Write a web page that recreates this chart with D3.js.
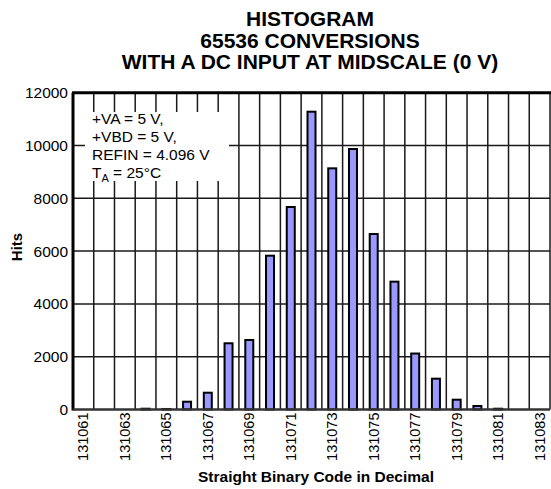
<!DOCTYPE html>
<html lang="en">
<head>
<meta charset="utf-8">
<title>Histogram 65536 conversions</title>
<script src="https://d3js.org/d3.v7.min.js"></script>
<style>
  body { margin: 0; background: #fff; }
  text { font-family: "Liberation Sans", Arial, sans-serif; fill: #000; }
</style>
</head>
<body>
<div id="chart"></div>
<script>
// output codes (categories) and hits per code
var codes = [131061, 131062, 131063, 131064, 131065, 131066, 131067, 131068,
             131069, 131070, 131071, 131072, 131073, 131074, 131075, 131076,
             131077, 131078, 131079, 131080, 131081, 131082, 131083];
var hits  = [0, 0, 0, 30, 20, 295, 636, 2508,
             2633, 5826, 7670, 11280, 9135, 9867, 6648, 4842,
             2120, 1167, 371, 133, 30, 0, 0];
var codeLabels = [131061, 131063, 131065, 131067, 131069, 131071,
                  131073, 131075, 131077, 131079, 131081, 131083];
var yTicks = [0, 2000, 4000, 6000, 8000, 10000, 12000];
var titleLines = ["HISTOGRAM", "65536 CONVERSIONS", "WITH A DC INPUT AT MIDSCALE (0 V)"];
var noteLines = ["+VA = 5 V,", "+VBD = 5 V,", "REFIN = 4.096 V"];

var W = 551, H = 489;
var pLeft = 73, pRight = 550, pTop = 92.7, pBottom = 409.5;

var svg = d3.select("#chart").append("svg")
    .attr("width", W)
    .attr("height", H);

var x = d3.scaleBand()
    .domain(codes)
    .range([pLeft, pRight]);

var y = d3.scaleLinear()
    .domain([0, 12000])
    .range([pBottom, pTop]);

var bw = x.bandwidth();
var barW = 8;

// grid
var grid = svg.append("g");
grid.selectAll(".vgrid")
    .data(codes.slice(1))
    .enter().append("line")
    .attr("x1", function(d) { return x(d); })
    .attr("x2", function(d) { return x(d); })
    .attr("y1", pTop)
    .attr("y2", pBottom)
    .attr("stroke", "#1a1a1a")
    .attr("stroke-width", 1.5);

grid.selectAll(".hgrid")
    .data(yTicks.slice(1, -1))
    .enter().append("line")
    .attr("x1", pLeft)
    .attr("x2", pRight)
    .attr("y1", function(d) { return y(d); })
    .attr("y2", function(d) { return y(d); })
    .attr("stroke", "#1a1a1a")
    .attr("stroke-width", 1.5);

// right border
svg.append("line")
    .attr("x1", pRight).attr("x2", pRight)
    .attr("y1", pTop).attr("y2", pBottom)
    .attr("stroke", "#1a1a1a").attr("stroke-width", 1.5);

// white note box over grid
svg.append("rect")
    .attr("x", 85).attr("y", 112)
    .attr("width", 144).attr("height", 69)
    .attr("fill", "#fff");

var note = svg.append("g");
note.selectAll(".nl")
    .data(noteLines)
    .enter().append("text")
    .attr("x", 92)
    .attr("y", function(d, i) { return 123.5 + i * 18; })
    .style("font-size", "15.5px")
    .text(function(d) { return d; });

var ta = note.append("text")
    .attr("x", 92)
    .attr("y", 177.5)
    .style("font-size", "15.5px");
ta.append("tspan").text("T");
ta.append("tspan").attr("dy", 4).style("font-size", "11px").text("A");
ta.append("tspan").attr("dy", -4).text(" = 25\u00B0C");

// bars
svg.selectAll(".bar")
    .data(hits.map(function(h, i) { return { code: codes[i], hits: h }; })
              .filter(function(d) { return d.hits > 0; }))
    .enter().append("rect")
    .attr("class", "bar")
    .attr("x", function(d) { return x(d.code) + (bw - barW) / 2; })
    .attr("y", function(d) { return y(d.hits); })
    .attr("width", barW)
    .attr("height", function(d) { return pBottom - y(d.hits); })
    .attr("fill", "#9999ff")
    .attr("stroke", "#000")
    .attr("stroke-width", 2);

// axes
var yAxis = d3.axisLeft(y)
    .tickValues(yTicks)
    .tickSize(0)
    .tickPadding(5)
    .tickFormat(d3.format("d"));

var gy = svg.append("g")
    .attr("transform", "translate(" + pLeft + ",0)")
    .call(yAxis);
gy.select(".domain").remove();
gy.selectAll("text")
    .style("font-size", "15.5px")
    .style("font-family", "'Liberation Sans', Arial, sans-serif");

var xAxis = d3.axisBottom(x)
    .tickValues(codeLabels)
    .tickSize(0)
    .tickFormat(d3.format("d"));

var gx = svg.append("g")
    .attr("transform", "translate(0," + pBottom + ")")
    .call(xAxis);
gx.select(".domain").remove();
gx.selectAll("text")
    .attr("transform", "rotate(-90)")
    .attr("x", -3)
    .attr("y", 0)
    .attr("dy", "0.35em")
    .style("text-anchor", "end")
    .style("font-size", "14.5px")
    .style("font-family", "'Liberation Sans', Arial, sans-serif");

// frame lines
svg.append("line")
    .attr("x1", pLeft - 1).attr("x2", pRight + 1)
    .attr("y1", pTop).attr("y2", pTop)
    .attr("stroke", "#000").attr("stroke-width", 3);
svg.append("line")
    .attr("x1", pLeft).attr("x2", pLeft)
    .attr("y1", pTop).attr("y2", pBottom + 1)
    .attr("stroke", "#000").attr("stroke-width", 3);
svg.append("line")
    .attr("x1", pLeft).attr("x2", pRight)
    .attr("y1", pBottom).attr("y2", pBottom)
    .attr("stroke", "#333").attr("stroke-width", 2.5);

// title
svg.selectAll(".title")
    .data(titleLines)
    .enter().append("text")
    .attr("x", 310)
    .attr("y", function(d, i) { return 26 + i * 21.7; })
    .style("text-anchor", "middle")
    .style("font-size", "21px")
    .style("font-weight", "bold")
    .text(function(d) { return d; });

// axis titles
svg.append("text")
    .attr("transform", "translate(21.5,247) rotate(-90)")
    .style("text-anchor", "middle")
    .style("font-size", "15px")
    .style("font-weight", "bold")
    .text("Hits");

svg.append("text")
    .attr("x", 316)
    .attr("y", 481.5)
    .style("text-anchor", "middle")
    .style("font-size", "15.5px")
    .style("font-weight", "bold")
    .text("Straight Binary Code in Decimal");
</script>
</body>
</html>
